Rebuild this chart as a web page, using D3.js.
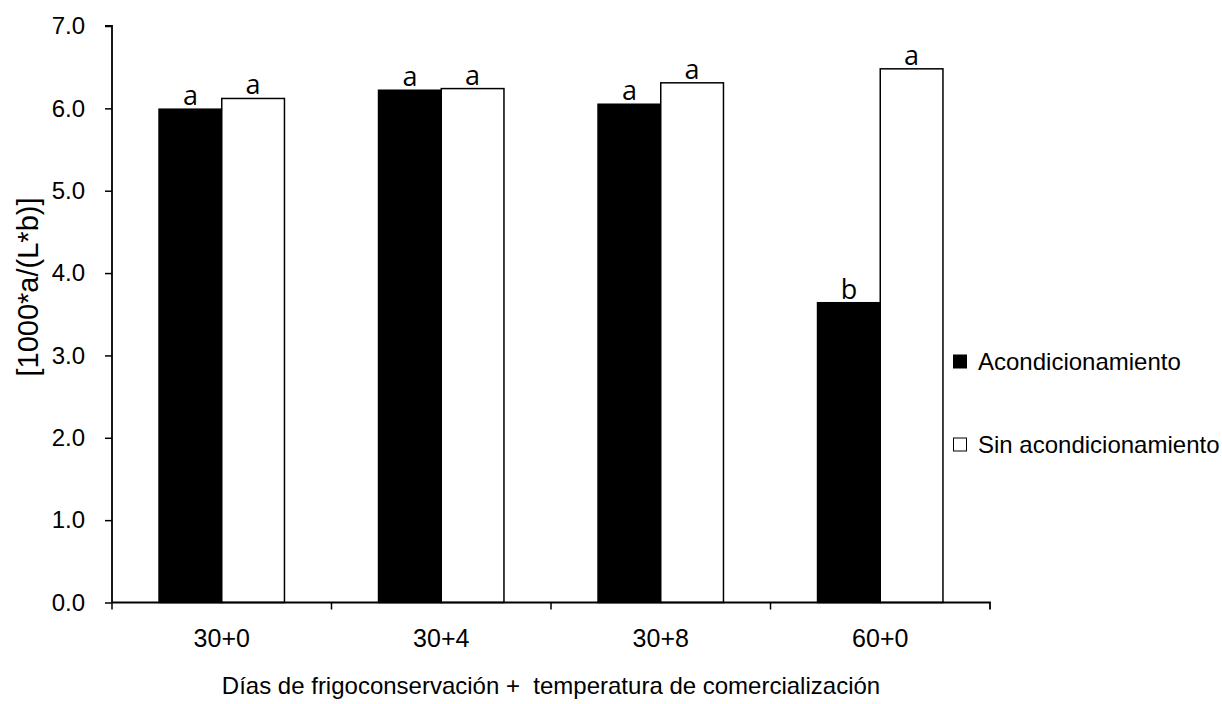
<!DOCTYPE html>
<html>
<head>
<meta charset="utf-8">
<script src="https://cdn.jsdelivr.net/npm/d3@7"></script>
<style>
  body { margin: 0; background: #fff; }
  svg { display: block; }
  text { fill: #000; white-space: pre; }
</style>
</head>
<body>
<svg id="chart" width="1222" height="704"></svg>
<script>
// Data
const categories = ["30+0", "30+4", "30+8", "60+0"];
const seriesNames = ["Acondicionamiento", "Sin acondicionamiento"];
const acondicionamiento = [5.99, 6.22, 6.05, 3.64];
const sinAcondicionamiento = [6.12, 6.24, 6.31, 6.48];
const letrasAcond = ["a", "a", "a", "b"];
const letrasSin = ["a", "a", "a", "a"];
const yTicks = [0, 1, 2, 3, 4, 5, 6, 7];

const svg = d3.select("#chart");
const m = { left: 112, right: 990, top: 26, bottom: 602.5 };
const sans = "'Liberation Sans', Arial, sans-serif";

const x0 = d3.scaleBand().domain(categories).range([m.left, m.right]).padding(0);
// Gap width 150%: the two bars fill 2 of 3.5 bar widths, centred in each category
const bw = x0.bandwidth();
const x1 = d3.scaleBand().domain(seriesNames)
  .range([bw * 0.75 / 3.5, bw * 2.75 / 3.5]).padding(0);
const y = d3.scaleLinear().domain([0, 7]).range([m.bottom, m.top]);

const rows = categories.map((c, i) => ({
  cat: c,
  vals: [
    { s: seriesNames[0], v: acondicionamiento[i], l: letrasAcond[i] },
    { s: seriesNames[1], v: sinAcondicionamiento[i], l: letrasSin[i] }
  ]
}));

const fill = { "Acondicionamiento": "#000", "Sin acondicionamiento": "#fff" };

const groups = svg.append("g").selectAll("g.cat").data(rows).join("g")
  .attr("transform", d => `translate(${x0(d.cat)},0)`);

groups.selectAll("rect").data(d => d.vals).join("rect")
  .attr("x", d => x1(d.s))
  .attr("y", d => y(d.v))
  .attr("width", x1.bandwidth())
  .attr("height", d => y(0) - y(d.v))
  .attr("fill", d => fill[d.s])
  .attr("stroke", "#000")
  .attr("stroke-width", 1.5);

// significance letters above each bar
groups.selectAll("text.lbl").data(d => d.vals).join("text")
  .attr("class", "lbl")
  .attr("x", d => x1(d.s) + x1.bandwidth() / 2)
  .attr("y", d => y(d.v) - 4)
  .attr("text-anchor", "middle")
  .style("font-family", "'Open Sans', 'DejaVu Sans', sans-serif")
  .style("font-size", "27px")
  .text(d => d.l);

// Y axis
const yAxis = d3.axisLeft(y).tickValues(yTicks).tickSize(7).tickFormat(d3.format(".1f"));
const ya = svg.append("g").attr("transform", `translate(${m.left},0)`).call(yAxis);
ya.select(".domain").attr("stroke", "#000").attr("stroke-width", 1.8).attr("d", `M-7,${y(7)}H0V${y(0)}`);
ya.selectAll(".tick line").attr("stroke", "#000").attr("stroke-width", 1.5);
ya.selectAll(".tick text")
  .attr("x", -27)
  .style("font-family", sans)
  .style("font-size", "24px");

// X axis
const xAxis = d3.axisBottom(x0).tickSize(0).tickSizeOuter(0);
const xa = svg.append("g").attr("transform", `translate(0,${m.bottom})`).call(xAxis);
xa.select(".domain").attr("stroke", "#000").attr("stroke-width", 1.8).attr("d", `M${m.left},0H${m.right}V7`);
xa.selectAll(".tick text")
  .attr("y", 44.5)
  .attr("dy", null)
  .style("font-family", sans)
  .style("font-size", "25px");
// tick marks between categories
xa.selectAll("line.bound").data(categories).join("line")
  .attr("class", "bound")
  .attr("x1", d => x0(d)).attr("x2", d => x0(d))
  .attr("y1", 0).attr("y2", 7)
  .attr("stroke", "#000").attr("stroke-width", 1.5);

// Axis titles
svg.append("text")
  .attr("x", 551).attr("y", 694)
  .attr("text-anchor", "middle")
  .style("font-family", sans)
  .style("font-size", "24px")
  .text("Días de frigoconservación +  temperatura de comercialización");

svg.append("text")
  .attr("transform", "translate(38,287) rotate(-90)")
  .attr("text-anchor", "middle")
  .style("font-family", sans)
  .style("font-size", "29px")
  .text("[1000*a/(L*b)]");

// Legend
const legend = svg.append("g").attr("transform", "translate(953,0)");
const legY = [370, 453];
seriesNames.forEach((s, i) => {
  legend.append("rect")
    .attr("x", 0.5).attr("y", legY[i] - 15)
    .attr("width", 13).attr("height", 13)
    .attr("fill", fill[s])
    .attr("stroke", "#000").attr("stroke-width", 1);
  legend.append("text")
    .attr("x", 25).attr("y", legY[i])
    .style("font-family", sans)
    .style("font-size", "24px")
    .text(s);
});
</script>
</body>
</html>
